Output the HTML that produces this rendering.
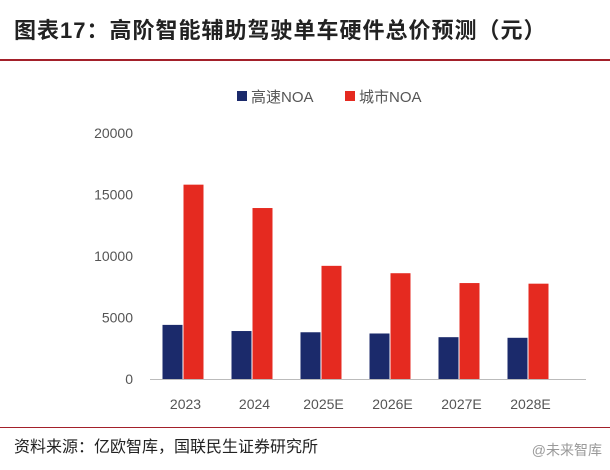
<!DOCTYPE html>
<html><head><meta charset="utf-8"><style>
body{margin:0;width:610px;height:470px;background:#fff;overflow:hidden;font-family:"Liberation Sans","Noto Sans CJK SC",sans-serif;}
.title{position:absolute;left:14px;top:13px;font-size:22px;font-weight:bold;color:#222;letter-spacing:1px;}
.src{position:absolute;left:14px;top:433px;font-size:16px;color:#222;}
.wm{position:absolute;right:8px;top:440px;font-size:14px;color:#999;}
</style></head><body>
<div class="title">图表17：高阶智能辅助驾驶单车硬件总价预测（元）</div>
<div style="position:absolute;left:0;top:59px;width:610px;height:2px;background:#a3202a"></div>
<div style="position:absolute;left:0;top:427px;width:610px;height:1px;background:#a3202a"></div>
<div class="src">资料来源：亿欧智库，国联民生证券研究所</div>
<div class="wm">@未来智库</div>
<svg id="chart" width="610" height="470" style="position:absolute;left:0;top:0"></svg>
<script>
const categories=["2023","2024","2025E","2026E","2027E","2028E"];
const highway=[4400,3900,3800,3700,3400,3350];
const city=[15800,13900,9200,8600,7800,7750];
const yTicks=[0,5000,10000,15000,20000];
const seriesNames=["高速NOA","城市NOA"];
const colors=["#1b2a6b","#e52a20"];
const svg=document.getElementById('chart');
const NS='http://www.w3.org/2000/svg';
const x0=149,x1=563,yBase=379,yTop=133,yMax=20000;
const y=v=>yBase-(v/yMax)*(yBase-yTop);
const band=(x1-x0)/categories.length;
const cx=i=>x0+band*(i+0.5);
function mk(t,a){const e=document.createElementNS(NS,t);for(const k in a)e.setAttribute(k,a[k]);svg.appendChild(e);return e;}
yTicks.forEach(v=>{
 const t=mk('text',{x:133,y:y(v)+5,'text-anchor':'end','font-size':'14','fill':'#555'});
 
 
 t.textContent=v;
});
const ax=mk('line',{x1:150,x2:586,y1:yBase+0.5,y2:yBase+0.5,stroke:'#bbb','stroke-width':1});


const bw=20;
categories.forEach((c,i)=>{
 [highway,city].forEach((s,j)=>{
  const r=mk('rect',{x:cx(i)-21+j*21,y:y(s[i]),width:bw,height:yBase-y(s[i]),fill:colors[j]});
  
  
 });
 const t=mk('text',{x:cx(i)+2,y:409,'text-anchor':'middle','font-size':'14','fill':'#555'});
 
 
 t.textContent=c;
});
const lx=[237,345];
seriesNames.forEach((n,j)=>{
 const r=mk('rect',{x:lx[j],y:91,width:10,height:10,fill:colors[j]});
 
 
 const t=mk('text',{x:lx[j]+14,y:102,'font-size':'15','fill':'#555'});
 
 
 t.textContent=n;
});
</script>
</body></html>
